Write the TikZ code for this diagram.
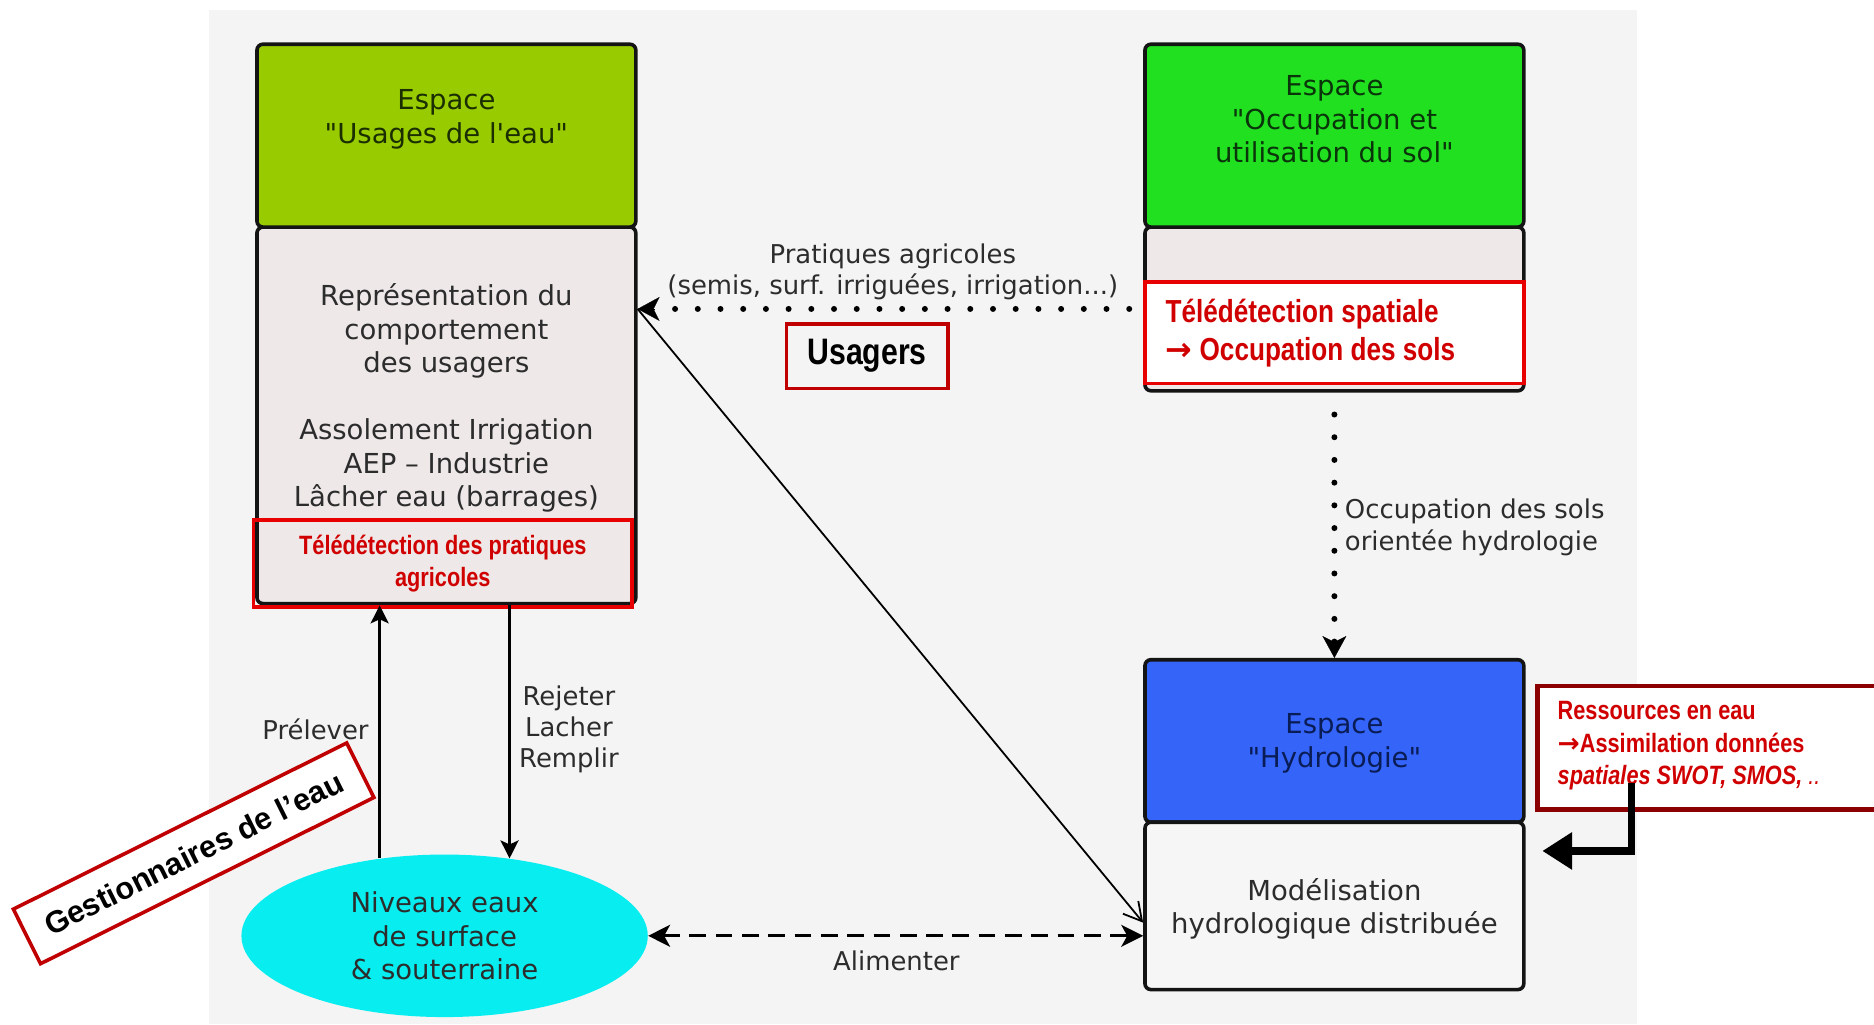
\documentclass[tikz,border=0pt]{standalone}
\usepackage{fontspec}
\setmainfont{DejaVu Sans}
\newfontfamily\narrowfont[FakeStretch=0.82]{Liberation Sans}
\newfontfamily\arialfont{Liberation Sans}
\newfontfamily\symfont{DejaVu Sans}
\usetikzlibrary{arrows.meta,shapes.geometric}
\definecolor{panel}{HTML}{F4F4F4}
\definecolor{pinkgrey}{HTML}{EEE8E8}
\definecolor{whitegrey}{HTML}{F6F6F6}
\definecolor{usgreen}{HTML}{99CC00}
\definecolor{ocgreen}{HTML}{20E020}
\definecolor{hyblue}{HTML}{3464F8}
\definecolor{nivcyan}{HTML}{08EEF0}
\definecolor{brightred}{HTML}{E80000}
\definecolor{redtext}{HTML}{D00000}
\definecolor{boxred}{HTML}{C00000}
\definecolor{darkred}{HTML}{8B0000}
\definecolor{txtgrey}{HTML}{2C2C2C}
\definecolor{dkgreen}{HTML}{1A2E00}
\definecolor{dkgreenb}{HTML}{0A340A}
\definecolor{dknavy}{HTML}{0A1C55}
\newcommand{\dq}{\textquotedbl}
\newcommand{\sq}{\textquotesingle}
\begin{document}
\begin{tikzpicture}[x=0.6pt,y=-0.6pt,
  box/.style={draw=black!92, line width=1.8pt, rounded corners=3pt, inner sep=0pt,
    minimum width=190.2pt},
  bodytext/.style={align=center, text=txtgrey, font=\fontsize{13.8}{16.8}\selectfont, inner sep=0pt},
  lbl/.style={text=txtgrey, font=\fontsize{13}{16}\selectfont, inner sep=0pt},
  redtxt/.style={text=redtext, font=\narrowfont\bfseries\fontsize{13.3}{16.2}\selectfont},
  redbox/.style={draw=brightred, line width=1.8pt, inner sep=0pt},
  dotline/.style={line width=3pt, line cap=round, dash pattern=on 0pt off 11.4pt},
  headS/.style={-{Stealth[length=11pt,width=12pt,inset=3pt]}},
]
\useasboundingbox (0,0) rectangle (1568,857);
\fill[white] (0,0) rectangle (1568,857);
\fill[panel] (175,8) rectangle (1370,857);

% left column
\node[box, fill=pinkgrey, minimum height=189pt] (usL) at (373.5,347.5) {};
\node[box, fill=usgreen, minimum height=91.8pt] (usH) at (373.5,113.5) {};
\node[bodytext, text=dkgreen] (usHt) at (373.5,100) {Espace\\\dq Usages de l\sq eau\dq};
\node[bodytext] (rep) at (373.5,277) {Représentation du\\comportement\\des usagers};
\node[bodytext] (ass) at (373.5,389.5) {Assolement Irrigation\\AEP – Industrie\\Lâcher eau (barrages)};
\node[redbox, minimum width=190.2pt, minimum height=43.8pt] (tdp) at (370.5,471.5) {};
\node[redtxt, align=center, inner sep=0pt] (tdpt) at (tdp) {Télédétection des pratiques\\agricoles};

% right top
\node[box, fill=pinkgrey, minimum height=82.2pt] (ocL) at (1116.5,258.5) {};
\node[box, fill=ocgreen, minimum height=91.8pt] (ocH) at (1116.5,113.5) {};
\node[bodytext, text=dkgreenb] (ocHt) at (1116.5,100) {Espace\\\dq Occupation et\\utilisation du sol\dq};
\node[redbox, fill=white, minimum width=190.2pt, minimum height=51pt] (tds) at (1116.5,278.5) {};
\node[redtxt, font=\narrowfont\bfseries\fontsize{16}{19.2}\selectfont, anchor=west, align=left, inner sep=0pt] (tdst) at (975,278.5) {Télédétection spatiale\\{\symfont\bfseries →} Occupation des sols};

% hydro
\node[box, fill=hyblue, minimum height=81.6pt] (hyH) at (1116.5,620) {};
\node[bodytext, text=dknavy] (hyHt) at (1116.5,622) {Espace\\\dq Hydrologie\dq};
\node[box, fill=whitegrey, minimum height=84pt] (hyL) at (1116.5,758) {};
\node[bodytext] (hyLt) at (1116.5,760.5) {Modélisation\\hydrologique distribuée};

% ellipse
\node[ellipse, fill=nivcyan, minimum width=204pt, minimum height=81.6pt, inner sep=0pt,
  align=center, text=txtgrey, font=\fontsize{13.8}{16.8}\selectfont] (niv) at (372,783) {Niveaux eaux\\de surface\\\& souterraine};

% Usagers
\node[draw=boxred, line width=1.8pt, minimum width=81pt, minimum height=32.4pt, inner sep=0pt,
  font=\narrowfont\bfseries\fontsize{18.5}{20}\selectfont] (usag) at (725.5,298) {Usagers};

% connectors
\draw[dotline] ([xshift=-7pt]ocL.west) -- ([xshift=8pt]usL.east |- ocL.west);
\draw[headS, line width=0.1pt] ([xshift=8.5pt]usL.east |- ocL.west) -- (usL.east |- ocL.west);
\node[lbl, align=center] (pratl) at (747,227.5) {Pratiques agricoles\\(semis, surf. irriguées, irrigation...)};

\draw[line width=0.9pt, -{Straight Barb[length=9pt,width=10pt]}] (usL.east |- ocL.west) -- ([yshift=-8.4pt]hyL.west);

\draw[dotline] ([yshift=-11pt]ocL.south) -- ([yshift=8pt]hyH.north);
\draw[headS, line width=0.1pt] ([yshift=9pt]hyH.north) -- (hyH.north);
\node[lbl, anchor=west, align=left] (occl) at (1125,441) {Occupation des sols\\orientée hydrologie};

\draw[line width=1.5pt, -{Stealth[length=9pt,width=9pt,inset=2pt]}] (niv.130) -- (niv.130 |- usL.south);
\draw[line width=1.5pt, -{Stealth[length=9pt,width=9pt,inset=2pt]}] (usL.south -| niv.50) -- (niv.50);
\node[lbl] (prel) at (264,610) {Prélever};
\node[lbl, align=center, font=\fontsize{13}{15.6}\selectfont] (rej) at (476,610) {Rejeter\\Lacher\\Remplir};

\draw[line width=1.5pt, dash pattern=on 8.4pt off 4.8pt,
  {Stealth[length=11pt,width=11pt,inset=3pt]}-{Stealth[length=11pt,width=11pt,inset=3pt]}]
  (niv.east) -- (hyL.west |- niv.east);
\node[lbl] (alim) at (750,804) {Alimenter};

% Gestionnaires
\node[draw=boxred, line width=1.8pt, fill=white, rotate=26.5, minimum width=187pt, minimum height=30.6pt,
  inner sep=0pt, font=\arialfont\bfseries\fontsize{15.5}{18}\selectfont] (gest) at (162,714) {Gestionnaires de l’eau};

% Ressources
\node[draw=darkred, line width=2.4pt, fill=white, minimum width=190pt, minimum height=61.8pt, inner sep=0pt] (res) at (1445,625.5) {};
\node[redtxt, anchor=west, align=left, inner sep=0pt] (rest) at (1303,624) {Ressources en eau\\{\symfont\bfseries →}Assimilation données\\\itshape spatiales SWOT, SMOS, {\mdseries ..}};
\coordinate (resArr) at (1365,655);
\draw[line width=3.6pt, -{Triangle[length=15pt,width=18pt]}] (resArr) |- ([xshift=8.4pt,yshift=27.6pt]hyL.east);
\end{tikzpicture}
\end{document}
